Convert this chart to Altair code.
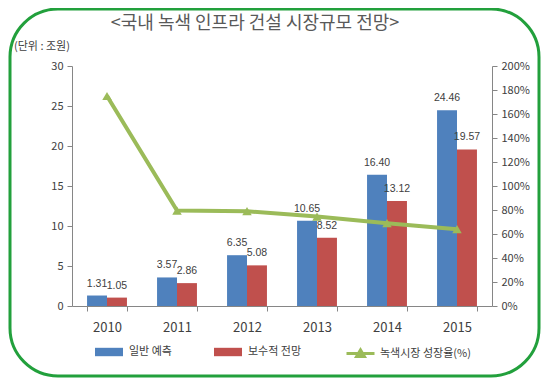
import altair as alt
import pandas as pd

years = ["2010", "2011", "2012", "2013", "2014", "2015"]
general = [1.31, 3.57, 6.35, 10.65, 16.40, 24.46]
conservative = [1.05, 2.86, 5.08, 8.52, 13.12, 19.57]
growth = [175, 79.5, 79, 74.5, 69, 64]
series_names = ["일반 예측", "보수적 전망"]
line_name = "녹색시장 성장율(%)"
title_text = "<국내 녹색 인프라 건설 시장규모 전망>"
unit_text = "(단위 : 조원)"

BLUE = "#4F81BD"
RED = "#C0504D"
GREEN = "#9BBB59"
TXT = "#404040"
AXC = "#868686"
FONT = "Noto Sans CJK KR"

bars_df = pd.DataFrame({
    "year": years * 2,
    "series": [series_names[0]] * 6 + [series_names[1]] * 6,
    "value": general + conservative,
})
line_df = pd.DataFrame({"year": years, "growth": growth, "name": [line_name] * 6})
deco_df = pd.DataFrame({"a": [0]})

xscale = alt.Scale(paddingInner=0.43, paddingOuter=0.215)
xenc = alt.X(
    "year:N",
    scale=xscale,
    axis=alt.Axis(title=None, labelAngle=0, tickBand="extent", labelFontSize=13,
                  labelPadding=10, labelColor=TXT, domain=True, ticks=True,
                  domainColor=AXC, tickColor=AXC, domainWidth=1, tickWidth=1,
                  tickSize=5, labelFont=FONT),
)

yleft = alt.Y(
    "value:Q",
    scale=alt.Scale(domain=[0, 30]),
    axis=alt.Axis(title=None, values=[0, 5, 10, 15, 20, 25, 30], grid=False,
                  orient="left", domain=True, ticks=True, labels=True,
                  labelFontSize=11, labelColor=TXT, domainColor=AXC, tickColor=AXC,
                  tickSize=5, labelPadding=4, labelFont=FONT),
)

bar_sym = "M-1,-0.3H1V0.3H-1Z"
line_sym = "M-1,0H1M-0.28,0.22L0,-0.26L0.28,0.22Z"

bars = alt.Chart(bars_df).mark_bar().encode(
    x=xenc,
    xOffset=alt.XOffset("series:N", sort=series_names, scale=alt.Scale(paddingInner=0)),
    y=yleft,
    color=alt.Color("series:N", sort=series_names,
                    scale=alt.Scale(domain=series_names, range=[BLUE, RED]),
                    legend=alt.Legend(orient="none", legendX=23, legendY=272,
                                      direction="horizontal", title=None,
                                      symbolType=bar_sym, symbolSize=784,
                                      symbolStrokeWidth=0, columnPadding=42,
                                      labelFontSize=11, labelColor=TXT, labelFont=FONT,
                                      labelOffset=6)),
)

bar_text = alt.Chart(bars_df).mark_text(dy=-12, fontSize=10.5, color=TXT, font="Liberation Sans").encode(
    x=alt.X("year:N", scale=xscale),
    xOffset=alt.XOffset("series:N", sort=series_names, scale=alt.Scale(paddingInner=0)),
    y=alt.Y("value:Q", scale=alt.Scale(domain=[0, 30]), axis=None),
    text=alt.Text("value:Q", format=".2f"),
)

yright = alt.Y(
    "growth:Q",
    scale=alt.Scale(domain=[0, 200]),
    axis=alt.Axis(title=None, orient="right", values=list(range(0, 201, 20)), grid=False,
                  domain=True, ticks=True, labels=True,
                  labelExpr="datum.value + '%'", labelFontSize=11, labelColor=TXT,
                  domainColor=AXC, tickColor=AXC, tickSize=5, labelPadding=4, labelFont=FONT),
)

line = alt.Chart(line_df).mark_line(strokeWidth=4).encode(
    x=alt.X("year:N", scale=xscale),
    y=yright,
    stroke=alt.Stroke("name:N", scale=alt.Scale(domain=[line_name], range=[GREEN]),
                      legend=alt.Legend(orient="none", legendX=273, legendY=272, title=None,
                                        symbolType=line_sym, symbolSize=784,
                                        symbolStrokeWidth=3, symbolFillColor=GREEN,
                                        labelFontSize=11, labelColor=TXT, labelFont=FONT,
                                        labelOffset=4)),
)
points = alt.Chart(line_df).mark_point(shape="triangle-up", filled=True, size=90, color=GREEN, opacity=1).encode(
    x=alt.X("year:N", scale=xscale),
    y=alt.Y("growth:Q", scale=alt.Scale(domain=[0, 200]), axis=None),
)

border = alt.Chart(deco_df).mark_rect(fill="transparent", stroke="#22A03C", strokeWidth=3, cornerRadius=48).encode(
    x=alt.value(-62), x2=alt.value(467), y=alt.value(-57), y2=alt.value(310)
)
title = alt.Chart(deco_df).mark_text(fontSize=18, color="#595959", font=FONT, align="center", baseline="middle").encode(
    x=alt.value(183), y=alt.value(-42), text=alt.value(title_text)
)
unit = alt.Chart(deco_df).mark_text(fontSize=11, color=TXT, font=FONT, align="left", baseline="middle").encode(
    x=alt.value(-58), y=alt.value(-19), text=alt.value(unit_text)
)

chart = alt.layer(border, bars, bar_text, line, points, title, unit).resolve_scale(
    y="independent", color="independent"
).properties(
    width=420, height=240,
    autosize=alt.AutoSizeParams(type="none"),
    padding={"left": 64, "top": 58, "right": 50, "bottom": 73},
    background="white",
).configure_view(stroke=None).configure_axis(domain=True, ticks=True)

chart.save("out.html", embed_options={"renderer": "svg", "actions": False})
